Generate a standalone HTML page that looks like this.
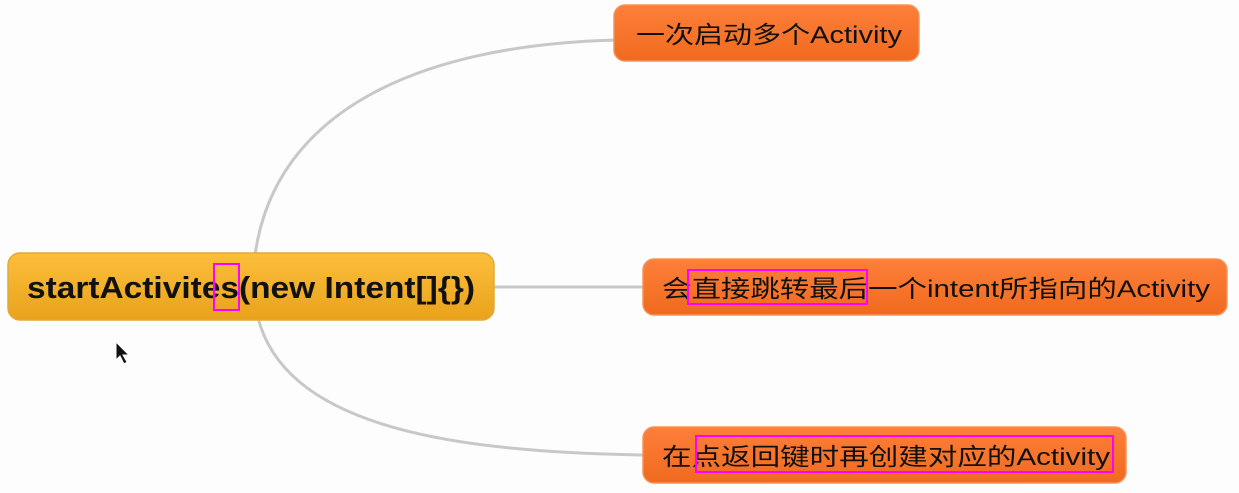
<!DOCTYPE html>
<html><head><meta charset="utf-8"><style>
html,body{margin:0;padding:0;background:#fdfdfd;}
svg{display:block}
text{font-family:"Liberation Sans","Noto Sans CJK SC",sans-serif;fill:#111;}
</style></head><body>
<svg width="1239" height="493" viewBox="0 0 1239 493" xmlns="http://www.w3.org/2000/svg">
<defs>
<linearGradient id="g1" x1="0" y1="0" x2="0" y2="1"><stop offset="0" stop-color="#fcbf3a"/><stop offset="1" stop-color="#e9a21c"/></linearGradient>
<linearGradient id="g2" x1="0" y1="0" x2="0" y2="1"><stop offset="0" stop-color="#fd7f3a"/><stop offset="1" stop-color="#f06a1e"/></linearGradient>
</defs>
<g fill="none" stroke="#c8c8c8" stroke-width="3">
<path d="M255 255 C 275 110, 420 45, 616 40"/>
<path d="M494 287 L645 287"/>
<path d="M258 318 C 285 420, 430 452, 645 455"/>
</g>
<rect x="8" y="253" width="486" height="67" rx="12" fill="url(#g1)" stroke="#e0a93a" stroke-width="1.5"/>
<text x="27" y="298" font-size="31" font-weight="bold" textLength="448" lengthAdjust="spacingAndGlyphs">startActivites(new Intent[]{})</text>
<rect x="614" y="5" width="305" height="56" rx="11" fill="url(#g2)" stroke="#f3935a" stroke-width="1.5"/>
<text x="636" y="43" font-size="24" textLength="266" lengthAdjust="spacingAndGlyphs">一次启动多个Activity</text>
<rect x="643" y="259" width="584" height="56" rx="11" fill="url(#g2)" stroke="#f3935a" stroke-width="1.5"/>
<text x="662" y="297" font-size="24" textLength="548" lengthAdjust="spacingAndGlyphs">会直接跳转最后一个intent所指向的Activity</text>
<rect x="643" y="427" width="483" height="56" rx="11" fill="url(#g2)" stroke="#f3935a" stroke-width="1.5"/>
<text x="662" y="465" font-size="24" textLength="448" lengthAdjust="spacingAndGlyphs">在点返回键时再创建对应的Activity</text>
<g fill="none" stroke="#ff00ff" stroke-width="2">
<rect x="214" y="264" width="25" height="46"/>
<rect x="688" y="270" width="179" height="34"/>
<rect x="696" y="436" width="417" height="36"/>
</g>
<path d="M116 342 L116 360 L120 356 L124 364 L127 362 L123 355 L129 355 Z" fill="#111" stroke="#fff" stroke-width="1"/>
</svg>
</body></html>
